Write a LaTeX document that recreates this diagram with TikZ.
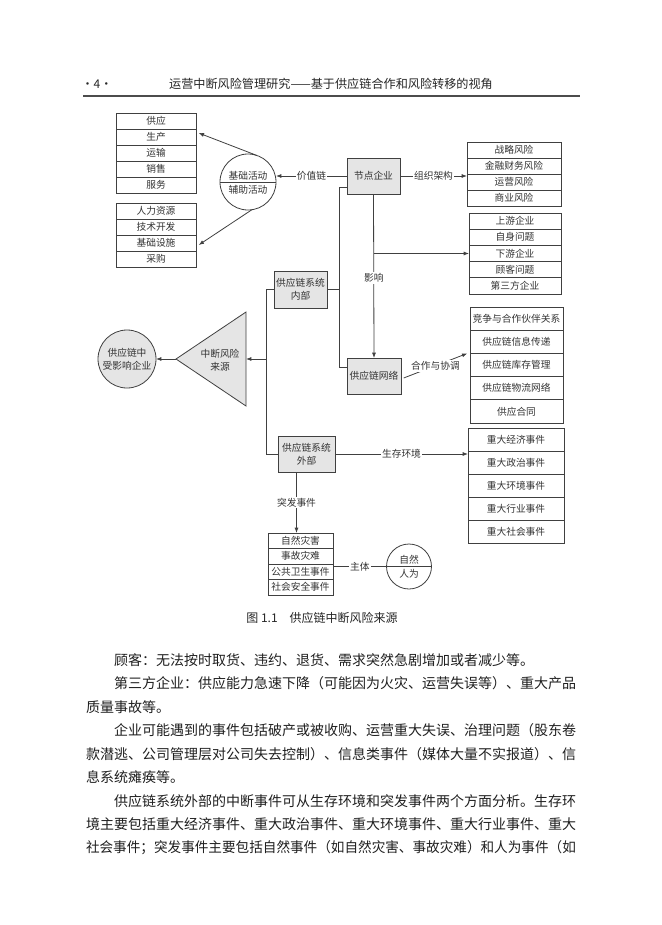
\documentclass[tikz,border=0pt]{standalone}
\usepackage{fontspec}
\setmainfont{Noto Sans CJK SC}
\usetikzlibrary{arrows.meta,calc,fit}
\newcommand\dfont{\fontsize{7.3}{9.6}\selectfont}
\newcommand\bfnt{\fontsize{10.5}{12}\selectfont}
% #1 name, #2 left x, #3 right x, #4 top y, #5 row height, #6 items, #7 count
\newcommand\mklist[7]{%
  \foreach \itm [count=\i] in {#6}{%
    \node[cell,minimum width={(#3-#2)*0.75pt},minimum height={#5*0.75pt}] (#1-\i) at (#2,{#4+(\i-1)*#5}) {\itm};}%
  \node[fit=(#1-1)(#1-#7)] (#1) {};%
}
\begin{document}
\begin{tikzpicture}[x=0.75pt,y=-0.75pt,
  every node/.style={inner sep=0pt,outer sep=0pt},
  ln/.style={draw=black!75,line width=0.6pt},
  arr/.style={ln,-{Latex[length=4pt,width=3pt]}},
  cell/.style={draw=black!75,line width=0.6pt,anchor=north west,font=\dfont,text=black!80},
  gbox/.style={draw=black!75,line width=0.6pt,fill=black!10,font=\dfont,text=black!80,align=center},
  lab/.style={fill=white,font=\dfont,text=black!80,inner sep=1pt},
  txt/.style={font=\dfont,text=black!80,align=center},
  body/.style={font=\bfnt,text=black!88,anchor=west},
]
\fill[white] (0,0) rectangle (661,925);
\useasboundingbox (0,0) rectangle (661,925);

% header
\node[font=\fontsize{9}{10}\selectfont,text=black!85] (pg) at (97,84) {·4·};
\node[font=\fontsize{9.1}{10}\selectfont,text=black!85] (ttl) at (331,84) {运营中断风险管理研究——基于供应链合作和风险转移的视角};
\draw[line width=0.8pt,black!70] (83,96) -- (580,96);

% lists
\mklist{l1}{116}{196}{113}{16}{供应,生产,运输,销售,服务}{5}
\mklist{l2}{116}{196}{203}{16}{人力资源,技术开发,基础设施,采购}{4}
\mklist{l3}{467}{561}{142}{16}{战略风险,金融财务风险,运营风险,商业风险}{4}
\mklist{l4}{469}{561}{213}{16.2}{上游企业,自身问题,下游企业,顾客问题,第三方企业}{5}
\mklist{l5}{470}{563}{307}{23.2}{竞争与合作伙伴关系,供应链信息传递,供应链库存管理,供应链物流网络,供应合同}{5}
\mklist{l6}{468}{564}{428}{23}{重大经济事件,重大政治事件,重大环境事件,重大行业事件,重大社会事件}{5}
\mklist{l7}{268}{333}{533}{15.5}{自然灾害,事故灾难,公共卫生事件,社会安全事件}{4}

% main boxes
\node[gbox,minimum width={53*0.75pt},minimum height={36*0.75pt}] (jd) at (373.5,176) {节点企业};
\node[gbox,minimum width={53*0.75pt},minimum height={37*0.75pt}] (nb) at (300.5,289.5) {供应链系统\\内部};
\node[gbox,minimum width={54*0.75pt},minimum height={36*0.75pt}] (wl) at (374,376) {供应链网络};
\node[gbox,minimum width={57*0.75pt},minimum height={36*0.75pt}] (wb) at (306.5,454) {供应链系统\\外部};

% top circle
\node[circle,ln,minimum size={56*0.75pt}] (c1) at (248,182) {};
\draw[ln] (c1.west) -- (c1.east);
\node[txt] (c1t) at (248,175.5) {基础活动};
\node[txt] (c1b) at (248,190) {辅助活动};
\draw[arr] (c1.72) -- ([xshift=2pt,yshift=3pt]l1-2.east);
\draw[arr] (c1.-82) -- ([xshift=2pt,yshift=-1.5pt]l2-3.east);

% connectors from node enterprise
\draw[arr] (jd.west) -- (jd.west -| c1.east) node[lab,midway] {价值链};
\draw[arr] (jd.east) -- (jd.east -| l3.west) node[lab,midway] {组织架构};
\draw[arr] (jd.south) -- (wl.north);
\draw[arr] (jd.south |- l4-3.west) -- (l4-3.west);
\node[lab] (yx) at (373.75,278) {影响};

% loop linking internal box
\coordinate (ka) at (339,187);
\coordinate (kb) at (339,367);
\draw[ln] (jd.west |- ka) -- (ka) -- (kb) -- (wl.west |- kb);
\draw[ln] (nb.east) -- (nb.east -| ka);

% network -> cooperation list
\draw[arr] ([xshift=2pt,yshift=-1.5pt]wl.east) -- ([xshift=-2pt]l5-2.south west) node[lab,midway] {合作与协调};

% left spine
\coordinate (sa) at (266,289.5);
\coordinate (sm) at (266,359);
\draw[ln] (nb.west) -- (nb.west -| sa) -- (wb.west -| sa) -- (wb.west);

% triangle
\coordinate (ta) at (176,359);
\coordinate (tt) at (246,312);
\coordinate (tb) at (246,406);
\draw[ln,fill=black!10] (ta) -- (tt) -- (tb) -- cycle;
\node[txt] (src) at (220,360) {中断风险\\来源};
\draw[arr] (sm) -- (sm -| tt);

% affected enterprise circle
\node[circle,ln,fill=black!10,minimum size={58*0.75pt}] (c3) at (127,359) {};
\node[txt] (c3t) at (127,359) {供应链中\\受影响企业};
\draw[arr] (ta) -- (c3.east);

% external
\draw[arr] (wb.east) -- (wb.east -| l6.west) node[lab,midway] {生存环境};
\draw[arr] ([xshift=-7.5pt]wb.south) -- ([xshift=-7.5pt]wb.south |- l7.north) node[lab,midway] {突发事件};

% subject circle
\node[circle,ln,minimum size={45*0.75pt}] (c2) at (409,566.5) {};
\draw[ln] (c2.west) -- (c2.east);
\node[txt] (c2t) at (409,559.5) {自然};
\node[txt] (c2b) at (409,573.5) {人为};
\draw[ln] (l7.east |- c2) -- (c2.west) node[lab,midway] {主体};

% caption
\node[font=\fontsize{9}{10}\selectfont,text=black!85] (cap) at (322,618) {图 1.1\quad 供应链中断风险来源};

% body text
\node[body] (b1) at (114,660) {顾客：无法按时取货、违约、退货、需求突然急剧增加或者减少等。};
\node[body] (b2) at (114,683.5) {第三方企业：供应能力急速下降（可能因为火灾、运营失误等）、重大产品};
\node[body] (b3) at (86,707) {质量事故等。};
\node[body] (b4) at (114,730.5) {企业可能遇到的事件包括破产或被收购、运营重大失误、治理问题（股东卷};
\node[body] (b5) at (86,754) {款潜逃、公司管理层对公司失去控制）、信息类事件（媒体大量不实报道）、信};
\node[body] (b6) at (86,777.5) {息系统瘫痪等。};
\node[body] (b7) at (114,801) {供应链系统外部的中断事件可从生存环境和突发事件两个方面分析。生存环};
\node[body] (b8) at (86,824.5) {境主要包括重大经济事件、重大政治事件、重大环境事件、重大行业事件、重大};
\node[body] (b9) at (86,848) {\scalebox{0.972}[1]{社会事件；突发事件主要包括自然事件（如自然灾害、事故灾难）和人为事件（如}};
\end{tikzpicture}
\end{document}
